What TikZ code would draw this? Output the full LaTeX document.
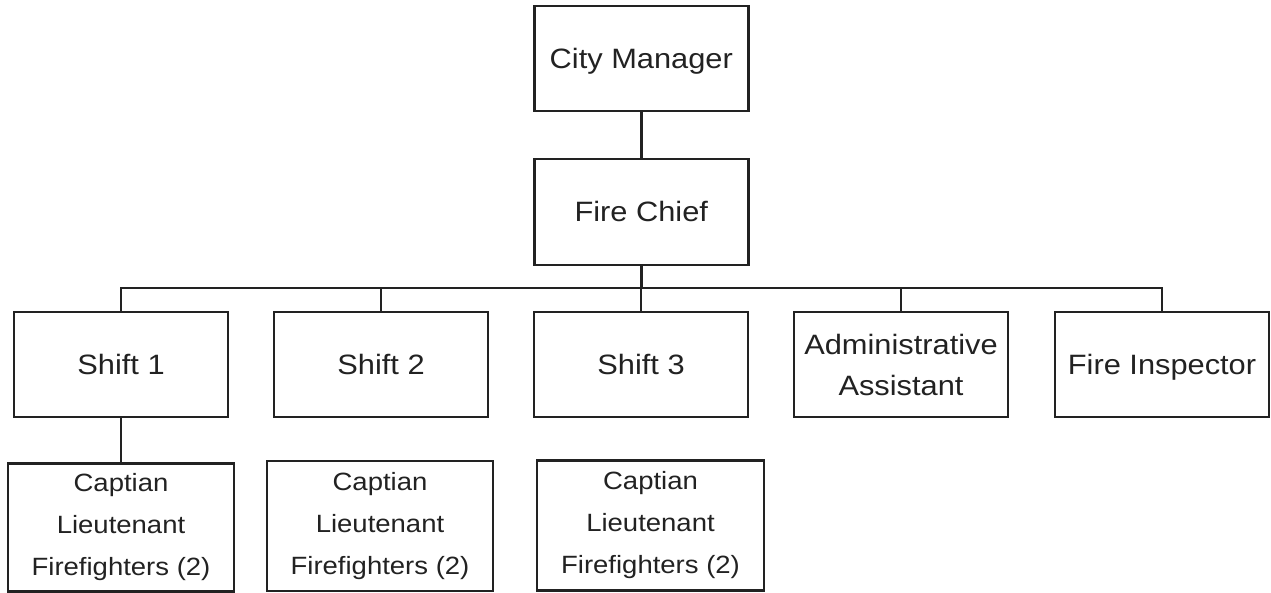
\documentclass[tikz,border=0pt]{standalone}
\usepackage{fontspec}
\setmainfont[FakeStretch=1.1]{Liberation Sans}
\definecolor{ink}{HTML}{222222}
\begin{document}
\begin{tikzpicture}[x=1pt,y=-1pt,
  line width=2.5pt, draw=ink, text=ink,
  post/.style={draw, rectangle, inner sep=0pt, minimum width=214pt, minimum height=105pt,
               font=\fontsize{28}{41}\selectfont, align=center},
  single/.style={text height=20pt, text depth=0pt},
  crew/.style={draw, rectangle, inner sep=0pt, minimum width=226pt, minimum height=128pt,
               font=\fontsize{25}{42}\selectfont, align=center},
  link/.style={draw=ink, line width=2.5pt}]
  \useasboundingbox (0,0) rectangle (1271,593);

  % chain of command
  \node[post, single] (cm)    at (641.3, 58.5)  {City Manager};
  \node[post, single, minimum height=106pt] (chief) at (641.3, 212) {Fire Chief};

  % reports to the fire chief
  \node[post, single] (s1)  at (121, 364.5)  {Shift 1};
  \node[post, single] (s2)  at (381, 364.5)  {Shift 2};
  \node[post, single] (s3)  at (641, 364.5)  {Shift 3};
  \node[post]         (adm) at (901, 364.5)  {Administrative\\Assistant};
  \node[post, single] (ins) at (1162, 364.5) {Fire Inspector};

  % shift crews
  \node[crew, minimum height=128pt] (c1) at (121, 527.5)   {Captian\\Lieutenant\\Firefighters (2)};
  \node[crew, minimum height=130pt] (c2) at (380, 526)     {Captian\\Lieutenant\\Firefighters (2)};
  \node[crew, minimum height=130pt, minimum width=227pt] (c3) at (650.5, 525.5) {Captian\\Lieutenant\\Firefighters (2)};

  \coordinate (bus) at (641.3, 288);

  \draw[link] (cm.south) -- (chief.south |- chief.north);
  \draw[link] (chief.south) -- (bus);
  \foreach \n in {s1,s2,s3,adm,ins}
    \draw[link] (bus) -| (\n.north);
  \draw[link] (s1.south) -- (c1.north);
\end{tikzpicture}
\end{document}
